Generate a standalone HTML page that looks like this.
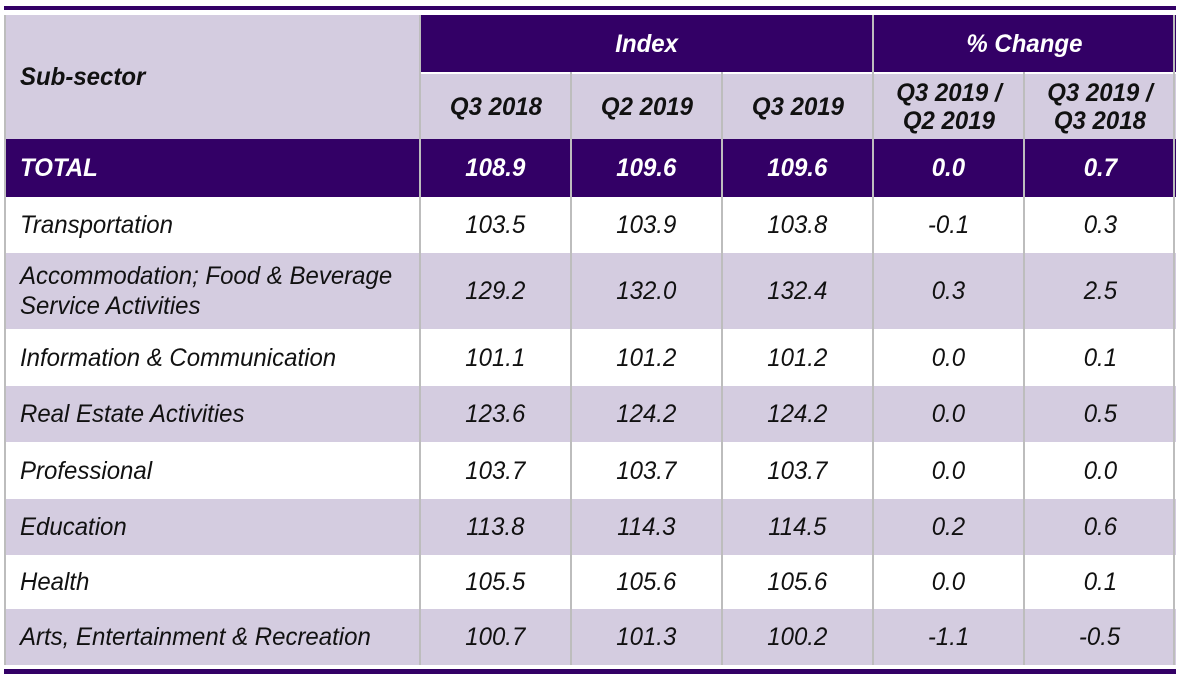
<!DOCTYPE html>
<html><head><style>
body{margin:0;width:1182px;height:679px;background:#fff;position:relative;overflow:hidden;font-family:"Liberation Sans",Arial,sans-serif;font-style:italic;font-size:25px;color:#111}
.c{position:absolute;display:flex;align-items:center;justify-content:center;box-sizing:border-box;text-align:center;line-height:30px}
.l{justify-content:flex-start;padding-left:16px;text-align:left}
.s{display:inline-block;transform:scaleX(0.96)}
.l .s{transform-origin:left center}
.p{background:#330066;color:#fff;font-weight:bold}
.g{background:#d4cce0}
.b{font-weight:bold}
.vl{position:absolute;width:2px;background:#bdbdbd}
</style></head><body>
<div style="position:absolute;left:4px;top:6px;width:1172px;height:4px;background:#330066"></div>
<div style="position:absolute;left:4px;top:669px;width:1172px;height:5px;background:#330066"></div>

<div class="c g l b" style="left:4px;top:15px;width:416px;height:124px"><span class="s">Sub-sector</span></div>
<div class="c p" style="left:420px;top:15px;width:453px;height:57px"><span class="s">Index</span></div>
<div class="c p" style="left:873px;top:15px;width:303px;height:57px"><span class="s">% Change</span></div>
<div class="c g b" style="left:420px;top:72px;width:151px;height:67px;border-top:2px solid #fff"><span class="s">Q3 2018</span></div>
<div class="c g b" style="left:571px;top:72px;width:151px;height:67px;border-top:2px solid #fff"><span class="s">Q2 2019</span></div>
<div class="c g b" style="left:722px;top:72px;width:151px;height:67px;border-top:2px solid #fff"><span class="s">Q3 2019</span></div>
<div class="c g b" style="left:873px;top:72px;width:151px;height:67px;border-top:2px solid #fff;line-height:28px"><span class="s">Q3 2019 /<br>Q2 2019</span></div>
<div class="c g b" style="left:1024px;top:72px;width:152px;height:67px;border-top:2px solid #fff;line-height:28px"><span class="s">Q3 2019 /<br>Q3 2018</span></div>

<div id="rows"></div>
<script>
const rows=[
["TOTAL","108.9","109.6","109.6","0.0","0.7",139,197,"p"],
["Transportation","103.5","103.9","103.8","-0.1","0.3",197,253,""],
["Accommodation; Food &amp; Beverage<br>Service Activities","129.2","132.0","132.4","0.3","2.5",253,329,"g"],
["Information &amp; Communication","101.1","101.2","101.2","0.0","0.1",329,386,""],
["Real Estate Activities","123.6","124.2","124.2","0.0","0.5",386,442,"g"],
["Professional","103.7","103.7","103.7","0.0","0.0",442,499,""],
["Education","113.8","114.3","114.5","0.2","0.6",499,555,"g"],
["Health","105.5","105.6","105.6","0.0","0.1",555,609,""],
["Arts, Entertainment &amp; Recreation","100.7","101.3","100.2","-1.1","-0.5",609,665,"g"]];
const xs=[4,420,571,722,873,1024,1176];
let h="";
for(const r of rows){
 for(let i=0;i<6;i++){
  h+=`<div class="c ${r[8]} ${i==0?'l':''}" style="left:${xs[i]}px;top:${r[6]}px;width:${xs[i+1]-xs[i]}px;height:${r[7]-r[6]}px"><span class="s">${r[i]}</span></div>`;
 }
}
[4,420,571,722,873,1024,1174].forEach((x,i)=>{
 const top=(i==0||i==1||i==4||i==6)?15:72;
 h+=`<div class="vl" style="left:${x==4?4:x-1}px;top:${top}px;height:${665-top}px"></div>`;
});
document.getElementById("rows").innerHTML=h;
</script>
</body></html>
